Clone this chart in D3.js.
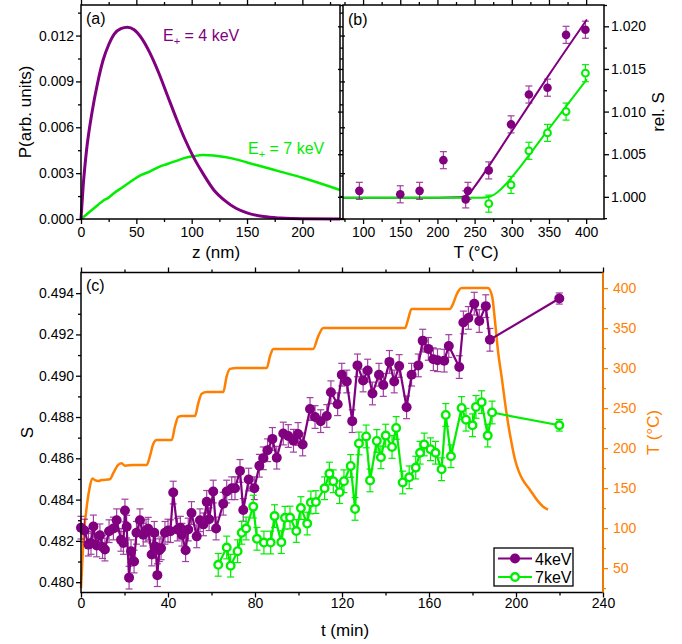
<!DOCTYPE html>
<html>
<head>
<meta charset="utf-8">
<script src="https://cdn.jsdelivr.net/npm/d3@7"></script>
<style>
  body { margin: 0; background: #fff; }
  svg text { font-family: "Liberation Sans", Arial, sans-serif; }
</style>
</head>
<body>
<div id="chart"></div>
<script>
// ---------- (a) positron implantation profiles ----------
var zDepth   = [0, 2, 5, 10, 15, 20, 25, 30, 36, 42, 48, 55, 62, 70, 78, 86, 94, 102, 110, 120, 130, 140, 150, 165, 180, 200, 234];
var prof4keV = [0, 0.0022, 0.0045, 0.0070, 0.0089, 0.0104, 0.0114, 0.0121, 0.01245, 0.01255, 0.01238, 0.0118, 0.0109, 0.0096, 0.0081, 0.0066, 0.0052, 0.0040, 0.0030, 0.0019, 0.0012, 0.0007, 0.0004, 0.00016, 0.00006, 0.00001, 0];
var prof7keV = [0, 0.00012, 0.0003, 0.0006, 0.0009, 0.0012, 0.0014, 0.0017, 0.0020, 0.0023, 0.0026, 0.0029, 0.0031, 0.0034, 0.0036, 0.0038, 0.0040, 0.00411, 0.00418, 0.00416, 0.00405, 0.0039, 0.0037, 0.0034, 0.0031, 0.0027, 0.0019];

// ---------- (b) relative S vs annealing temperature ----------
var tempB4   = [95, 150, 176, 208, 238, 241, 269, 299, 323, 348, 373, 399];
var relS4    = [1.0007, 1.0003, 1.0007, 1.0043, 0.9997, 1.0007, 1.0031, 1.0085, 1.0120, 1.0128, 1.0190, 1.0196];
var relS4err = [0.0010, 0.0010, 0.0010, 0.0010, 0.0010, 0.0010, 0.0010, 0.0010, 0.0010, 0.0010, 0.0010, 0.0010];
var tempB7   = [269, 299, 323, 348, 373, 399];
var relS7    = [0.9992, 1.0014, 1.0054, 1.0075, 1.0100, 1.0145];
var relS7err = [0.0010, 0.0010, 0.0010, 0.0010, 0.0010, 0.0010];
var fitT4 = [73, 200, 230, 238, 244, 250, 300, 350, 401];
var fitS4 = [0.9999, 0.9999, 0.99995, 1.0001, 1.0005, 1.0012, 1.0077, 1.0143, 1.0208];
var fitT7 = [73, 260, 270, 277, 283, 290, 300, 350, 401];
var fitS7 = [0.9999, 0.9999, 1.0000, 1.0003, 1.0007, 1.0013, 1.0023, 1.0080, 1.0138];

// ---------- (c) S during the heating ramp ----------
var time4 = [0.0, 1.6, 3.4, 4.6, 5.7, 7.2, 8.7, 9.9, 11.0, 12.9,
  14.9, 16.4, 18.4, 19.5, 20.2, 21.0, 22.1, 23.0, 24.4, 25.5,
  27.1, 28.6, 29.9, 30.9, 32.5, 33.7, 34.3, 35.1, 36.0, 36.8,
  38.6, 40.0, 41.1, 42.4, 44.3, 45.7, 46.4, 48.1, 49.3, 50.8,
  53.2, 54.7, 56.3, 57.8, 58.9, 60.8, 62.1, 65.4, 67.0, 69.3,
  70.8, 73.1, 74.6, 77.1, 79.7, 82.0, 83.8, 85.8, 88.0, 90.0,
  93.0, 95.3, 97.7, 99.8, 101.9, 105.3, 107.6, 110.2, 113.0, 114.9,
  118.0, 119.9, 122.2, 124.7, 127.1, 129.7, 131.8, 134.0, 137.0, 139.0,
  141.8, 144.0, 146.3, 149.7, 152.0, 155.1, 157.1, 159.7, 162.0, 163.9,
  167.0, 169.1, 173.9, 175.8, 178.1, 180.8, 183.1, 186.1, 188.0, 219.9];
var S4 = [0.48264, 0.48250, 0.48182, 0.48190, 0.48270, 0.48178, 0.48227, 0.48170, 0.48158, 0.48247,
  0.48260, 0.48300, 0.48205, 0.48190, 0.48347, 0.48269, 0.48022, 0.48150, 0.48100, 0.48239,
  0.48300, 0.48230, 0.48250, 0.48259, 0.48134, 0.48239, 0.48172, 0.48034, 0.48155, 0.48164,
  0.48239, 0.48250, 0.48247, 0.48434, 0.48255, 0.48264, 0.48230, 0.48155, 0.48255, 0.48335,
  0.48222, 0.48300, 0.48280, 0.48389, 0.48305, 0.48439, 0.48260, 0.48380, 0.48439, 0.48455,
  0.48455, 0.48539, 0.48350, 0.48497, 0.48455, 0.48564, 0.48600, 0.48639, 0.48694, 0.48603,
  0.48720, 0.48708, 0.48685, 0.48718, 0.48667, 0.48839, 0.48800, 0.48780, 0.48805, 0.48920,
  0.48862, 0.49005, 0.48972, 0.48780, 0.49050, 0.48977, 0.49025, 0.48914, 0.49005, 0.48955,
  0.49067, 0.48972, 0.49047, 0.48847, 0.49005, 0.49050, 0.49170, 0.49130, 0.49080, 0.49075,
  0.49073, 0.49144, 0.49042, 0.49258, 0.49280, 0.49349, 0.49265, 0.49337, 0.49174, 0.49374];
var err4 = [0.00055, 0.00055, 0.00055, 0.00055, 0.00055, 0.00055, 0.00055, 0.00055, 0.00055, 0.00055,
  0.00055, 0.00055, 0.00055, 0.00055, 0.00055, 0.00055, 0.00055, 0.00055, 0.00055, 0.00055,
  0.00055, 0.00055, 0.00055, 0.00055, 0.00055, 0.00055, 0.00055, 0.00055, 0.00055, 0.00055,
  0.00055, 0.00055, 0.00055, 0.00055, 0.00055, 0.00055, 0.00055, 0.00055, 0.00055, 0.00055,
  0.00055, 0.00055, 0.00055, 0.00055, 0.00055, 0.00055, 0.00055, 0.00055, 0.00055, 0.00055,
  0.00055, 0.00055, 0.00055, 0.00055, 0.00055, 0.00055, 0.00055, 0.00055, 0.00055, 0.00055,
  0.00055, 0.00055, 0.00055, 0.00055, 0.00055, 0.00055, 0.00055, 0.00055, 0.00055, 0.00055,
  0.00055, 0.00055, 0.00055, 0.00055, 0.00055, 0.00055, 0.00055, 0.00055, 0.00055, 0.00055,
  0.00055, 0.00055, 0.00055, 0.00055, 0.00055, 0.00055, 0.00055, 0.00055, 0.00055, 0.00055,
  0.00055, 0.00055, 0.00055, 0.00055, 0.00055, 0.00055, 0.00055, 0.00055, 0.00055, 0.00027];
var time7 = [63.1, 67.0, 68.8, 72.0, 73.9, 75.9, 79.2, 80.9, 84.1, 87.2,
  89.0, 92.1, 93.8, 96.1, 99.0, 101.1, 104.0, 105.7, 108.0, 112.0,
  114.2, 116.0, 118.9, 120.9, 124.0, 126.0, 127.8, 131.1, 132.9, 136.0,
  137.9, 140.1, 143.0, 144.9, 147.9, 150.9, 153.9, 155.9, 157.8, 160.7,
  163.0, 165.8, 167.7, 170.1, 175.0, 177.0, 180.0, 181.6, 184.2, 187.0,
  189.0, 219.9];
var S7 = [0.48084, 0.48168, 0.48080, 0.48150, 0.48239, 0.48260, 0.48366, 0.48210, 0.48192, 0.48192,
  0.48320, 0.48194, 0.48312, 0.48313, 0.48248, 0.48359, 0.48284, 0.48386, 0.48388, 0.48455,
  0.48526, 0.48489, 0.48436, 0.48489, 0.48563, 0.48355, 0.48672, 0.48706, 0.48493, 0.48684,
  0.48605, 0.48710, 0.48655, 0.48747, 0.48483, 0.48508, 0.48555, 0.48627, 0.48667, 0.48644,
  0.48627, 0.48547, 0.48810, 0.48610, 0.48844, 0.48787, 0.48760, 0.48849, 0.48872, 0.48710,
  0.48822, 0.48760];
var err7 = [0.00055, 0.00055, 0.00055, 0.00055, 0.00055, 0.00055, 0.00055, 0.00055, 0.00055, 0.00055,
  0.00055, 0.00055, 0.00055, 0.00055, 0.00055, 0.00055, 0.00055, 0.00055, 0.00055, 0.00055,
  0.00055, 0.00055, 0.00055, 0.00055, 0.00055, 0.00055, 0.00055, 0.00055, 0.00055, 0.00055,
  0.00055, 0.00055, 0.00055, 0.00055, 0.00055, 0.00055, 0.00055, 0.00055, 0.00055, 0.00055,
  0.00055, 0.00055, 0.00055, 0.00055, 0.00055, 0.00055, 0.00055, 0.00055, 0.00055, 0.00055,
  0.00055, 0.00028];
// sample temperature during the run (right axis)
var timeT = [0.0, 0.5, 1.1, 2.3, 3.8, 5.2, 6.4, 8.0, 9.5, 13.3, 14.9, 17.1, 18.7, 20.2, 24.0, 30.2,
  31.7, 33.2, 34.8, 41.7, 43.2, 44.7, 46.3, 52.4, 53.9, 55.5, 57.8, 65.4, 67.0, 68.5, 71.6, 85.4,
  86.9, 88.4, 106.7, 109.1, 111.4, 149.0, 150.3, 152.0, 169.7, 171.0, 172.7, 175.0, 187.1, 189.0,
  190.3, 191.7, 193.6, 194.9, 196.3, 197.7, 199.5, 201.4, 203.2, 206.4, 209.7, 212.4, 214.7];
var tempT = [25, 52, 85, 119, 148, 162, 160, 159, 160, 161, 169, 179, 181, 178, 179, 179,
  190, 205, 210, 210, 227, 239, 240, 240, 256, 268, 270, 270, 290, 299, 300, 300,
  315, 324, 324, 340, 350, 350, 360, 374, 374, 380, 392, 400, 400, 390,
  360, 322, 285, 258, 232, 210, 186, 170, 160, 148, 135, 127, 123];

// ---------- tick values ----------
var ticksAx = [0, 50, 100, 150, 200],  minorAx = [25, 75, 125, 175, 225];
var ticksAy = [0, 0.003, 0.006, 0.009, 0.012], minorAy = [0.0015, 0.0045, 0.0075, 0.0105, 0.0135];
var ticksBx = [100, 150, 200, 250, 300, 350, 400], minorBx = [75, 125, 175, 225, 275, 325, 375];
var ticksBy = [1.000, 1.005, 1.010, 1.015, 1.020], minorBy = [0.9975, 1.0025, 1.0075, 1.0125, 1.0175, 1.0225];
var ticksCx = [0, 40, 80, 120, 160, 200, 240], minorCx = [20, 60, 100, 140, 180, 220];
var ticksCy = [0.480, 0.482, 0.484, 0.486, 0.488, 0.490, 0.492, 0.494], minorCy = [0.481, 0.483, 0.485, 0.487, 0.489, 0.491, 0.493];
var ticksCT = [50, 100, 150, 200, 250, 300, 350, 400], minorCT = [25, 75, 125, 175, 225, 275, 325, 375];

var purple = "#800080", green = "#00ee00", orange = "#ff8000";
var svgWidth = 682, svgHeight = 644;

var svg = d3.select("#chart").append("svg")
  .attr("width", svgWidth)
  .attr("height", svgHeight);

// panel frames (pixels)
var boxA = {x0: 81, x1: 340, y0: 5, y1: 219};
var boxB = {x0: 343, x1: 604, y0: 5, y1: 219};
var boxC = {x0: 81, x1: 603, y0: 272.5, y1: 592.5};

var xA = d3.scaleLinear().domain([0, 234]).range([boxA.x0, boxA.x1]);
var yA = d3.scaleLinear().domain([0, 0.014]).range([boxA.y1, boxA.y0]);
var xB = d3.scaleLinear().domain([73, 424]).range([boxB.x0, boxB.x1]);
var yB = d3.scaleLinear().domain([0.9974, 1.0225]).range([boxB.y1, boxB.y0]);
var xC = d3.scaleLinear().domain([0, 240]).range([boxC.x0, boxC.x1]);
var yC = d3.scaleLinear().domain([0.4795, 0.495]).range([boxC.y1, boxC.y0]);
var yT = d3.scaleLinear().domain([19.5, 419.5]).range([boxC.y1, boxC.y0]);

// axis helper: minor + major ticks, no domain line (frame draws it)
function addAxis(axisFn, scale, major, minor, fmt, translate, pad, color) {
  color = color || "#000";
  var g = svg.append("g").attr("transform", translate);
  g.append("g").call(axisFn(scale).tickValues(minor).tickSize(3).tickFormat(""));
  g.append("g").call(axisFn(scale).tickValues(major).tickSize(5).tickPadding(pad)
    .tickFormat(fmt ? fmt : ""));
  g.selectAll("path.domain").remove();
  g.selectAll("line").attr("stroke", color).attr("stroke-width", 1.3);
  g.selectAll("text").attr("fill", color)
    .style("font-size", "14px")
    .style("font-family", "'Liberation Sans', Arial, sans-serif");
  return g;
}

function frame(b) {
  svg.append("rect")
    .attr("x", b.x0).attr("y", b.y0)
    .attr("width", b.x1 - b.x0).attr("height", b.y1 - b.y0)
    .attr("fill", "none").attr("stroke", "#000").attr("stroke-width", 1.5);
}

function errorBars(g, xs, ys, es, xScale, yScale, color, cap) {
  xs.forEach(function(t, i) {
    var x = xScale(t), y1 = yScale(ys[i] - es[i]), y2 = yScale(ys[i] + es[i]);
    g.append("line").attr("x1", x).attr("x2", x).attr("y1", y1).attr("y2", y2);
    g.append("line").attr("x1", x - cap).attr("x2", x + cap).attr("y1", y1).attr("y2", y1);
    g.append("line").attr("x1", x - cap).attr("x2", x + cap).attr("y1", y2).attr("y2", y2);
  });
  g.attr("stroke", color).attr("stroke-width", 1.2);
}

var fmt3 = d3.format(".3f");

// ================= panel (a) =================
var lineA = d3.line().curve(d3.curveMonotoneX);
svg.append("path")
  .attr("d", lineA(zDepth.map(function(z, i) { return [xA(z), yA(prof7keV[i])]; })))
  .attr("fill", "none").attr("stroke", green).attr("stroke-width", 2.5);
svg.append("path")
  .attr("d", lineA(zDepth.map(function(z, i) { return [xA(z), yA(prof4keV[i])]; })))
  .attr("fill", "none").attr("stroke", purple).attr("stroke-width", 3);

frame(boxA);
addAxis(d3.axisBottom, xA, ticksAx, minorAx, d3.format("d"), "translate(0," + boxA.y1 + ")", 3);
addAxis(d3.axisTop, xA, ticksAx, minorAx, null, "translate(0," + boxA.y0 + ")", 3);
addAxis(d3.axisLeft, yA, ticksAy, minorAy, fmt3, "translate(" + boxA.x0 + ",0)", 2);
addAxis(d3.axisRight, yA, ticksAy, minorAy, null, "translate(" + boxA.x1 + ",0)", 2);

svg.append("text").attr("x", 86).attr("y", 24).style("font-size", "16px").text("(a)");
function eLabel(x, y, txt, color) {
  var t = svg.append("text").attr("x", x).attr("y", y).attr("fill", color).style("font-size", "16px");
  t.append("tspan").text("E");
  t.append("tspan").attr("dy", 4).style("font-size", "11px").text("+");
  t.append("tspan").attr("dy", -4).text(txt);
}
eLabel(163, 40.5, " = 4 keV", purple);
eLabel(248, 154, " = 7 keV", green);

svg.append("text")
  .attr("transform", "translate(31," + ((boxA.y0 + boxA.y1) / 2) + ") rotate(-90)")
  .style("text-anchor", "middle").style("font-size", "17px")
  .text("P(arb. units)");
svg.append("text")
  .attr("x", 216).attr("y", 258)
  .style("text-anchor", "middle").style("font-size", "17px")
  .text("z (nm)");

// ================= panel (b) =================
var lineB = d3.line().curve(d3.curveMonotoneX);
svg.append("path")
  .attr("d", lineB(fitT4.map(function(t, i) { return [xB(t), yB(fitS4[i])]; })))
  .attr("fill", "none").attr("stroke", purple).attr("stroke-width", 2);
svg.append("path")
  .attr("d", lineB(fitT7.map(function(t, i) { return [xB(t), yB(fitS7[i])]; })))
  .attr("fill", "none").attr("stroke", green).attr("stroke-width", 2);

errorBars(svg.append("g").attr("opacity", 0.75), tempB4, relS4, relS4err, xB, yB, purple, 3.5);
errorBars(svg.append("g"), tempB7, relS7, relS7err, xB, yB, green, 3.5);

svg.append("g").selectAll("circle")
  .data(tempB4).enter().append("circle")
  .attr("cx", function(d) { return xB(d); })
  .attr("cy", function(d, i) { return yB(relS4[i]); })
  .attr("r", 4.3).attr("fill", purple);
svg.append("g").selectAll("circle")
  .data(tempB7).enter().append("circle")
  .attr("cx", function(d) { return xB(d); })
  .attr("cy", function(d, i) { return yB(relS7[i]); })
  .attr("r", 3.4).attr("fill", "#fff").attr("stroke", green).attr("stroke-width", 2);

frame(boxB);
addAxis(d3.axisBottom, xB, ticksBx, minorBx, d3.format("d"), "translate(0," + boxB.y1 + ")", 3);
addAxis(d3.axisTop, xB, ticksBx, minorBx, null, "translate(0," + boxB.y0 + ")", 3);
addAxis(d3.axisLeft, yB, ticksBy, minorBy, null, "translate(" + boxB.x0 + ",0)", 2);
addAxis(d3.axisRight, yB, ticksBy, minorBy, fmt3, "translate(" + boxB.x1 + ",0)", 2);

svg.append("text").attr("x", 348).attr("y", 25).style("font-size", "16px").text("(b)");
svg.append("text")
  .attr("transform", "translate(664," + ((boxB.y0 + boxB.y1) / 2) + ") rotate(-90)")
  .style("text-anchor", "middle").style("font-size", "17px")
  .text("rel. S");
svg.append("text")
  .attr("x", 476).attr("y", 258)
  .style("text-anchor", "middle").style("font-size", "17px")
  .text("T (°C)");

// ================= panel (c) =================
var lineT = d3.line().curve(d3.curveMonotoneX);
svg.append("path")
  .attr("d", lineT(timeT.map(function(t, i) { return [xC(t), yT(tempT[i])]; })))
  .attr("fill", "none").attr("stroke", orange).attr("stroke-width", 2.5);

var lineC = d3.line();
svg.append("path")
  .attr("d", lineC(time4.map(function(t, i) { return [xC(t), yC(S4[i])]; })))
  .attr("fill", "none").attr("stroke", purple).attr("stroke-width", 2.2);
errorBars(svg.append("g").attr("opacity", 0.75), time4, S4, err4, xC, yC, purple, 3.5);
svg.append("g").selectAll("circle")
  .data(time4).enter().append("circle")
  .attr("cx", function(d) { return xC(d); })
  .attr("cy", function(d, i) { return yC(S4[i]); })
  .attr("r", 5).attr("fill", purple);

svg.append("path")
  .attr("d", lineC(time7.map(function(t, i) { return [xC(t), yC(S7[i])]; })))
  .attr("fill", "none").attr("stroke", green).attr("stroke-width", 2.2);
errorBars(svg.append("g"), time7, S7, err7, xC, yC, green, 3.5);
svg.append("g").selectAll("circle")
  .data(time7).enter().append("circle")
  .attr("cx", function(d) { return xC(d); })
  .attr("cy", function(d, i) { return yC(S7[i]); })
  .attr("r", 3.8).attr("fill", "#fff").attr("stroke", green).attr("stroke-width", 2.4);

frame(boxC);
addAxis(d3.axisBottom, xC, ticksCx, minorCx, d3.format("d"), "translate(0," + boxC.y1 + ")", 1);
addAxis(d3.axisTop, xC, ticksCx, minorCx, null, "translate(0," + boxC.y0 + ")", 3);
addAxis(d3.axisLeft, yC, ticksCy, minorCy, fmt3, "translate(" + boxC.x0 + ",0)", 2);
addAxis(d3.axisRight, yT, ticksCT, minorCT, d3.format("d"), "translate(" + boxC.x1 + ",0)", 5, orange);
svg.append("line")
  .attr("x1", boxC.x1).attr("x2", boxC.x1).attr("y1", boxC.y0).attr("y2", boxC.y1)
  .attr("stroke", orange).attr("stroke-width", 1.8);

svg.append("text").attr("x", 86).attr("y", 291).style("font-size", "16px").text("(c)");
svg.append("text")
  .attr("transform", "translate(33," + ((boxC.y0 + boxC.y1) / 2) + ") rotate(-90)")
  .style("text-anchor", "middle").style("font-size", "17px")
  .text("S");
svg.append("text")
  .attr("transform", "translate(659," + ((boxC.y0 + boxC.y1) / 2) + ") rotate(-90)")
  .style("text-anchor", "middle").style("font-size", "17px").attr("fill", orange)
  .text("T (°C)");
svg.append("text")
  .attr("x", 345).attr("y", 636)
  .style("text-anchor", "middle").style("font-size", "17px")
  .text("t (min)");

// legend
var legend = svg.append("g").attr("transform", "translate(494,548)");
legend.append("rect").attr("width", 79).attr("height", 38)
  .attr("fill", "#fff").attr("stroke", "#000").attr("stroke-width", 1.3);
var legendItems = [
  {label: "4keV", color: purple, open: false},
  {label: "7keV", color: green, open: true}
];
legendItems.forEach(function(d, i) {
  var y = 10.5 + i * 18.5;
  legend.append("line").attr("x1", 4).attr("x2", 38).attr("y1", y).attr("y2", y)
    .attr("stroke", d.color).attr("stroke-width", 2.2);
  legend.append("circle").attr("cx", 21).attr("cy", y)
    .attr("r", d.open ? 3.8 : 5)
    .attr("fill", d.open ? "#fff" : d.color)
    .attr("stroke", d.open ? d.color : "none").attr("stroke-width", 2.4);
  legend.append("text").attr("x", 41).attr("y", y + 6)
    .style("font-size", "16px").text(d.label);
});
</script>
</body>
</html>
